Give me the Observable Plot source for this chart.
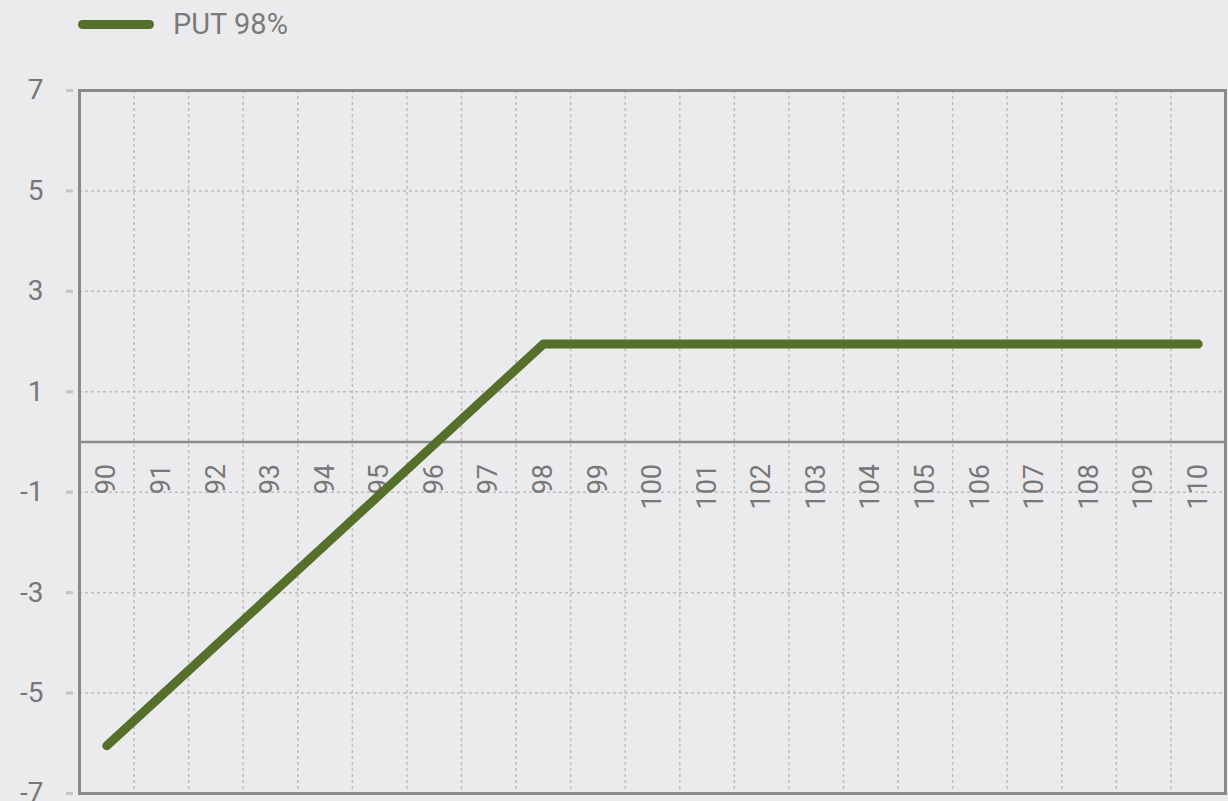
<!DOCTYPE html>
<html>
<head>
<meta charset="utf-8">
<script src="https://cdn.jsdelivr.net/npm/d3@7"></script>
<script src="https://cdn.jsdelivr.net/npm/@observablehq/plot@0.6"></script>
<style>
  html, body { margin: 0; padding: 0; background: #ebebed; }
  body { width: 1228px; height: 801px; overflow: hidden; font-family: Roboto, "Noto Sans", sans-serif; }
  #legend { position: relative; height: 50px; }
  #legend .swatch { position: absolute; left: 78px; top: 20px; width: 76px; height: 9px; border-radius: 5px; background: #54702b; }
  #legend .label { position: absolute; left: 173px; top: 6px; font-size: 29px; line-height: 36px; color: #7a7a7a; }
  svg { display: block; }
</style>
</head>
<body>
<div id="legend"><div class="swatch"></div><div class="label"></div></div>
<div id="chart"></div>
<script>
const seriesName = "PUT 98%";
const strikes = [90, 91, 92, 93, 94, 95, 96, 97, 98, 99, 100, 101, 102, 103, 104, 105, 106, 107, 108, 109, 110];
const payoff = [-6.05, -5.05, -4.05, -3.05, -2.05, -1.05, -0.05, 0.95, 1.95, 1.95, 1.95, 1.95, 1.95, 1.95, 1.95, 1.95, 1.95, 1.95, 1.95, 1.95, 1.95];
const yTicks = [7, 5, 3, 1, -1, -3, -5, -7];

document.querySelector("#legend .label").textContent = seriesName;

const data = strikes.map((s, i) => ({strike: s, value: payoff[i]}));
const bounds = d3.range(strikes.length - 1).map(i => (strikes[i] + strikes[i + 1]) / 2);

const lineColor = "#54702b";
const gridColor = "#bdbdbd";
const frameColor = "#8a8a8a";
const textColor = "#777777";

const chart = Plot.plot({
  width: 1228,
  height: 751,
  marginTop: 40,
  marginBottom: 8,
  marginLeft: 79,
  marginRight: 3,
  style: {background: "#ebebed", fontFamily: "Roboto, 'Noto Sans', sans-serif"},
  x: {domain: [strikes[0] - 0.5, strikes[strikes.length - 1] + 0.5], axis: null},
  y: {domain: [-7, 7], axis: null},
  marks: [
    Plot.ruleX(bounds, {x: d => d, stroke: gridColor, strokeWidth: 1.5, strokeDasharray: "3,3"}),
    Plot.ruleY(yTicks, {y: d => d, stroke: gridColor, strokeWidth: 1.5, strokeDasharray: "3,3"}),
    Plot.axisY(yTicks, {
      ticks: yTicks, tickSize: 7, dx: -6, tickPadding: 23, label: null,
      stroke: "#c4c4c4", strokeWidth: 3, fill: textColor, fontSize: 28,
      tickFormat: d => d < 0 ? "-" + Math.abs(d) : String(d)
    }),
    Plot.ruleY([0], {stroke: frameColor, strokeWidth: 2.5}),
    Plot.text(strikes, {
      x: d => d, y: () => 0, text: d => String(d),
      rotate: -90, textAnchor: "end", lineAnchor: "middle", dy: 22,
      fill: textColor, fontSize: 27
    }),
    Plot.line(data, {x: "strike", y: "value", stroke: lineColor, strokeWidth: 9, strokeLinecap: "round", strokeLinejoin: "round"}),
    Plot.frame({stroke: frameColor, strokeWidth: 3})
  ]
});
document.getElementById("chart").appendChild(chart);
</script>
</body>
</html>
